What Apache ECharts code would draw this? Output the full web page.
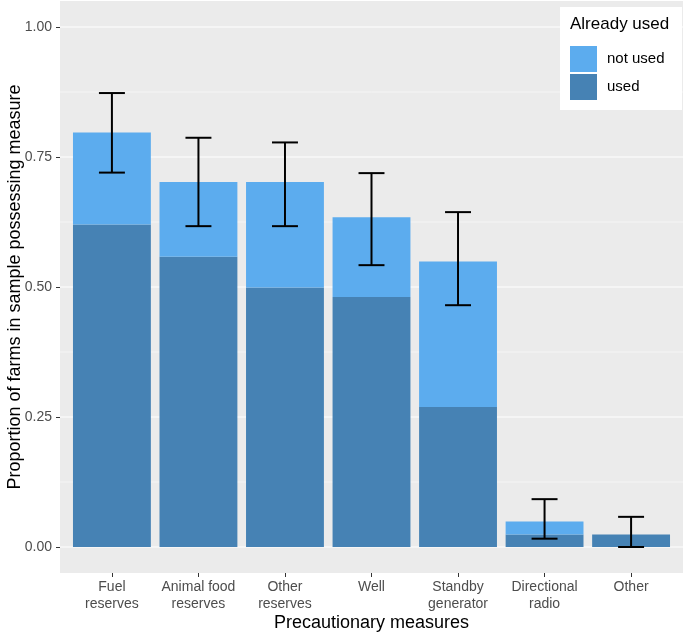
<!DOCTYPE html>
<html>
<head>
<meta charset="utf-8">
<script src="https://cdn.jsdelivr.net/npm/echarts@6/dist/echarts.min.js"></script>
<style>html,body{margin:0;padding:0;background:#fff}#c{width:685px;height:634px}</style>
</head>
<body>
<div id="c"></div>
<script>
var categories = ['Fuel\nreserves', 'Animal food\nreserves', 'Other\nreserves', 'Well', 'Standby\ngenerator', 'Directional\nradio', 'Other'];
var usedValues = [0.620, 0.558, 0.499, 0.481, 0.269, 0.024, 0.024];
var notUsedValues = [0.177, 0.144, 0.203, 0.153, 0.280, 0.025, 0.000];
var errLow = [0.720, 0.617, 0.617, 0.542, 0.465, 0.016, 0.000];
var errHigh = [0.873, 0.787, 0.778, 0.719, 0.644, 0.092, 0.058];
var yTicks = [0, 0.25, 0.5, 0.75, 1];
var yMinorGrid = [0.125, 0.375, 0.625, 0.875];

var chart = echarts.init(document.getElementById('c'), null, {renderer: 'canvas'});
var font = 'Liberation Sans, Arial, Helvetica, sans-serif';
var idx = categories.map(function (c, i) { return i; });

var gridData = yTicks.map(function (v) { return [v, 1]; }).concat(yMinorGrid.map(function (v) { return [v, 0]; }));

function barRender(params, api) {
  var x = api.value(0);
  var base = api.value(1);
  var top = api.value(2);
  if (top <= base) return null;
  var p1 = api.coord([x - 0.45, top]);
  var p2 = api.coord([x + 0.45, base]);
  return {type: 'rect', shape: {x: p1[0], y: p1[1], width: p2[0] - p1[0], height: p2[1] - p1[1]},
    style: {fill: api.visual('color')}};
}

var option = {
  animation: false,
  grid: {left: 60, right: 2, top: 1, bottom: 61, show: true, backgroundColor: '#EBEBEB', borderWidth: 0,
    containLabel: false, outerBoundsMode: 'none'},
  xAxis: {
    type: 'value', min: -0.6, max: 6.6,
    splitLine: {show: false},
    axisLine: {show: false, onZero: false},
    axisTick: {show: true, customValues: idx, length: 4, lineStyle: {color: '#333333', width: 1}},
    axisLabel: {
      customValues: idx, margin: 6, color: '#4D4D4D', fontSize: 14, fontFamily: font, lineHeight: 17,
      formatter: function (v) { return categories[Math.round(v)]; }
    },
    name: 'Precautionary measures', nameLocation: 'middle', nameGap: 41, nameMoveOverlap: false,
    nameTextStyle: {fontSize: 18, color: '#000', fontFamily: font}
  },
  yAxis: {
    type: 'value', min: -0.05, max: 1.05,
    splitLine: {show: false},
    axisLine: {show: false, onZero: false},
    axisTick: {show: true, customValues: yTicks, length: 4, lineStyle: {color: '#333333', width: 1}},
    axisLabel: {
      customValues: yTicks, margin: 8, color: '#4D4D4D', fontSize: 14, fontFamily: font,
      formatter: function (v) { return v.toFixed(2); }
    },
    name: 'Proportion of farms in sample possessing measure', nameLocation: 'middle', nameGap: 36, nameMoveOverlap: false,
    nameTextStyle: {fontSize: 18, color: '#000', fontFamily: font}
  },
  legend: {
    orient: 'vertical', left: 570, top: 46, itemWidth: 27, itemHeight: 26, itemGap: 2, z: 20, padding: 0,
    icon: 'rect', textStyle: {fontSize: 15, color: '#000', fontFamily: font, padding: [4, 0, 0, 5]},
    data: ['not used', 'used'], selectedMode: false
  },
  graphic: [
    {type: 'rect', left: 560, top: 7, shape: {width: 122, height: 103}, style: {fill: '#fff'}, z: 10},
    {type: 'text', left: 570, top: 16, style: {text: 'Already used', fontSize: 17, fontFamily: font, fill: '#000'}, z: 11}
  ],
  series: [
    {
      type: 'custom', name: 'grid', z: 0, silent: true,
      data: gridData,
      renderItem: function (params, api) {
        var v = api.value(0);
        var p1 = api.coord([-0.6, v]);
        var p2 = api.coord([6.6, v]);
        return {type: 'line', shape: {x1: p1[0], y1: p1[1], x2: p2[0], y2: p2[1]},
          style: {stroke: '#FFFFFF', lineWidth: api.value(1) ? 1.1 : 0.55}};
      }
    },
    {
      type: 'custom', name: 'used', z: 2, silent: true,
      itemStyle: {color: '#4682B4'},
      data: idx.map(function (i) { return [i, 0, usedValues[i]]; }),
      renderItem: barRender
    },
    {
      type: 'custom', name: 'not used', z: 2, silent: true,
      itemStyle: {color: '#5CACEE'},
      data: idx.map(function (i) { return [i, usedValues[i], usedValues[i] + notUsedValues[i]]; }),
      renderItem: barRender
    },
    {
      type: 'custom', name: 'err', z: 5, silent: true,
      data: idx.map(function (i) { return [i, errLow[i], errHigh[i]]; }),
      renderItem: function (params, api) {
        var x = api.value(0);
        var lo = api.coord([x, api.value(1)]);
        var hi = api.coord([x, api.value(2)]);
        var half = api.size([0.15, 0])[0];
        var st = {stroke: '#000', lineWidth: 2};
        return {type: 'group', children: [
          {type: 'line', shape: {x1: lo[0], y1: lo[1], x2: hi[0], y2: hi[1]}, style: st},
          {type: 'line', shape: {x1: lo[0] - half, y1: lo[1], x2: lo[0] + half, y2: lo[1]}, style: st},
          {type: 'line', shape: {x1: hi[0] - half, y1: hi[1], x2: hi[0] + half, y2: hi[1]}, style: st}
        ]};
      }
    }
  ]
};
chart.setOption(option);
</script>
</body>
</html>
